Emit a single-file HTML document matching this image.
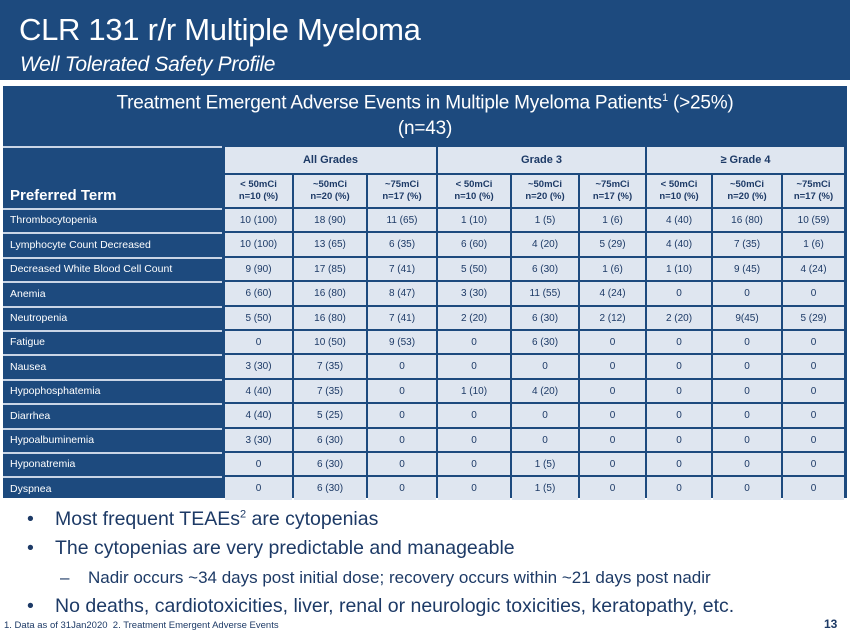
<!DOCTYPE html><html><head><style>
body{margin:0;width:850px;height:638px;background:#fff;position:relative;overflow:hidden;font-family:"Liberation Sans",sans-serif;}
.hdr{position:absolute;left:0;top:0;width:850px;height:80px;background:#1d4a7e;color:#fff}
.t1{position:absolute;left:19px;top:12px;font-size:31px;letter-spacing:-0.3px}
.t2{position:absolute;left:20px;top:53px;font-size:21px;font-style:italic;letter-spacing:-0.3px}
.box{position:absolute;left:3px;top:86px;width:844px;height:412px;background:#1d4a7e}
.tt{position:absolute;left:0;width:844px;text-align:center;color:#fff;font-size:19px;letter-spacing:-0.2px}
.c{position:absolute;background:#dfe6f0;color:#1d3a66;font-size:10px;text-align:center;display:flex;align-items:center;justify-content:center;line-height:1.3}
.n{position:absolute;color:#fff;font-size:10.5px;display:flex;align-items:center;padding-left:7px;box-sizing:border-box}
.sep{position:absolute;left:3px;width:219px;height:2px;background:#c9d5e6}
.bl{position:absolute;color:#1d3a66;font-size:19.5px;}
.bl span{position:absolute;left:0}
</style></head><body>
<div class="hdr"><div class="t1">CLR 131 r/r Multiple Myeloma</div><div class="t2">Well Tolerated Safety Profile</div></div>
<div class="box">
<div class="tt" style="top:6px">Treatment Emergent Adverse Events in Multiple Myeloma Patients<sup style="font-size:11px">1</sup> (&gt;25%)</div>
<div class="tt" style="top:32px">(n=43)</div>
</div>
<div id="t"></div>
<div class="bl" style="left:27px;top:508px"><span>•</span><b style="font-weight:normal;margin-left:28px">Most frequent TEAEs<sup style="font-size:11px">2</sup> are cytopenias</b></div>
<div class="bl" style="left:27px;top:537px"><span>•</span><b style="font-weight:normal;margin-left:28px">The cytopenias are very predictable and manageable</b></div>
<div class="bl" style="left:60px;top:568px;font-size:17px"><span>–</span><b style="font-weight:normal;margin-left:28px">Nadir occurs ~34 days post initial dose; recovery occurs within ~21 days post nadir</b></div>
<div class="bl" style="left:27px;top:595px"><span>•</span><b style="font-weight:normal;margin-left:28px">No deaths, cardiotoxicities, liver, renal or neurologic toxicities, keratopathy, etc.</b></div>
<div style="position:absolute;left:4px;top:620px;font-size:9.5px;color:#1d3a66">1. Data as of 31Jan2020&nbsp;&nbsp;2. Treatment Emergent Adverse Events</div>
<div style="position:absolute;left:824px;top:617px;font-size:12px;font-weight:bold;color:#1d3a66">13</div>
<script>
var xs=[225,294,368,438,512,580,647,713,783,846];
var rows=[["Thrombocytopenia","10 (100)","18 (90)","11 (65)","1 (10)","1 (5)","1 (6)","4 (40)","16 (80)","10 (59)"],
["Lymphocyte Count Decreased","10 (100)","13 (65)","6 (35)","6 (60)","4 (20)","5 (29)","4 (40)","7 (35)","1 (6)"],
["Decreased White Blood Cell Count","9 (90)","17 (85)","7 (41)","5 (50)","6 (30)","1 (6)","1 (10)","9 (45)","4 (24)"],
["Anemia","6 (60)","16 (80)","8 (47)","3 (30)","11 (55)","4 (24)","0","0","0"],
["Neutropenia","5 (50)","16 (80)","7 (41)","2 (20)","6 (30)","2 (12)","2 (20)","9(45)","5 (29)"],
["Fatigue","0","10 (50)","9 (53)","0","6 (30)","0","0","0","0"],
["Nausea","3 (30)","7 (35)","0","0","0","0","0","0","0"],
["Hypophosphatemia","4 (40)","7 (35)","0","1 (10)","4 (20)","0","0","0","0"],
["Diarrhea","4 (40)","5 (25)","0","0","0","0","0","0","0"],
["Hypoalbuminemia","3 (30)","6 (30)","0","0","0","0","0","0","0"],
["Hyponatremia","0","6 (30)","0","0","1 (5)","0","0","0","0"],
["Dyspnea","0","6 (30)","0","0","1 (5)","0","0","0","0"]];
var h="";
function cell(x1,x2,y1,y2,t,st){h+='<div class="c" style="left:'+x1+'px;top:'+y1+'px;width:'+(x2-x1-2)+'px;height:'+(y2-y1-2)+'px;'+(st||'')+'">'+t+'</div>';}
var g=["All Grades","Grade 3","≥ Grade 4"];
for(var i=0;i<3;i++)cell(xs[i*3],xs[i*3+3],147,175,g[i],"font-size:11px;font-weight:bold");
var sub=["&lt; 50mCi<br>n=10 (%)","~50mCi<br>n=20 (%)","~75mCi<br>n=17 (%)"];
for(var i=0;i<9;i++)cell(xs[i],xs[i+1],175,209,sub[i%3],"font-size:9.5px;font-weight:bold");
h+='<div class="sep" style="top:146px"></div>';
h+='<div class="n" style="left:3px;top:176px;width:219px;height:33px;font-size:15px;font-weight:bold;padding-top:6px">Preferred Term</div>';
var y0=209,rh=24.4;
for(var r=0;r<12;r++){var y1=Math.round(y0+r*rh),y2=Math.round(y0+(r+1)*rh);
h+='<div class="sep" style="top:'+(y1-1)+'px"></div>';
h+='<div class="n" style="left:3px;top:'+y1+'px;width:219px;height:'+(y2-y1-2)+'px">'+rows[r][0]+'</div>';
for(var c=0;c<9;c++)cell(xs[c],xs[c+1],y1,y2,rows[r][c+1]);}
document.getElementById("t").innerHTML=h;
</script>
</body></html>
